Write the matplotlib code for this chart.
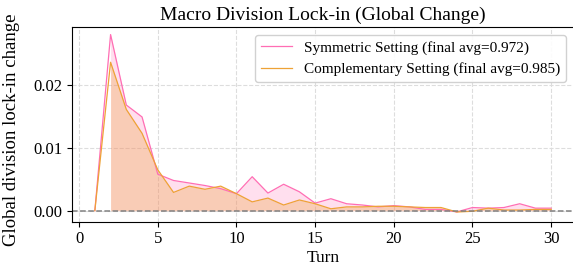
import matplotlib
matplotlib.use("Agg")
import matplotlib.pyplot as plt
import numpy as np

plt.rcParams['font.family'] = ['Liberation Serif', 'DejaVu Serif']

turns = np.arange(1, 31)
symmetric = [0.0, 0.0280, 0.0168, 0.0149, 0.0058, 0.0048, 0.0044, 0.0040, 0.0035, 0.0027,
             0.0054, 0.0028, 0.0042, 0.0030, 0.0012, 0.0019, 0.0011, 0.0009, 0.0006, 0.0008,
             0.0006, 0.0002, 0.0002, -0.0002, 0.0005, 0.0004, 0.0005, 0.0011, 0.0004, 0.0004]
complementary = [0.0, 0.0236, 0.0161, 0.0123, 0.0065, 0.0029, 0.0039, 0.0034, 0.0039, 0.0027,
                 0.0014, 0.0020, 0.0009, 0.0017, 0.0011, 0.0003, 0.0006, 0.0006, 0.0007, 0.0007,
                 0.0006, 0.0005, 0.0005, -0.0002, -0.0001, 0.0004, 0.0001, 0.0001, 0.0002, 0.0002]
labels = ['Symmetric Setting (final avg=0.972)',
          'Complementary Setting (final avg=0.985)']

pink = '#ff6eb4'
orange = '#eea236'

fig = plt.figure(figsize=(5.73, 2.73), dpi=100)
ax = fig.add_axes([0.1257, 0.188, 0.876, 0.713])

ax.plot(turns, symmetric, color=pink, lw=0.9, label=labels[0])
ax.fill_between(turns[1:], 0, symmetric[1:], color=pink, alpha=0.22, lw=0)
ax.plot(turns, complementary, color=orange, lw=0.9, label=labels[1])
ax.fill_between(turns[1:], 0, complementary[1:], color=orange, alpha=0.3, lw=0)

ax.axhline(0, color='gray', ls='--', lw=1.1)
ax.grid(True, ls='--', color='#dddddd', lw=0.8)
ax.set_axisbelow(True)

ax.set_xlim(-0.45, 31.45)
ax.set_ylim(-0.00175, 0.0292)
ax.set_xticks([0, 5, 10, 15, 20, 25, 30])
ax.set_yticks([0.0, 0.01, 0.02])
ax.set_yticklabels(['0.00', '0.01', '0.02'])
ax.tick_params(labelsize=12)

ax.spines['right'].set_visible(False)
ax.set_xlabel('Turn', fontsize=12.5, labelpad=2)
ax.set_ylabel('Global division lock-in change', fontsize=13.5)
ax.yaxis.set_label_coords(-0.104, 0.47)
ax.set_title('Macro Division Lock-in (Global Change)', fontsize=14, pad=5)

ax.legend(loc='upper right', fontsize=11, framealpha=0.9, edgecolor='#cccccc')

fig.savefig('out.png', dpi=100)
